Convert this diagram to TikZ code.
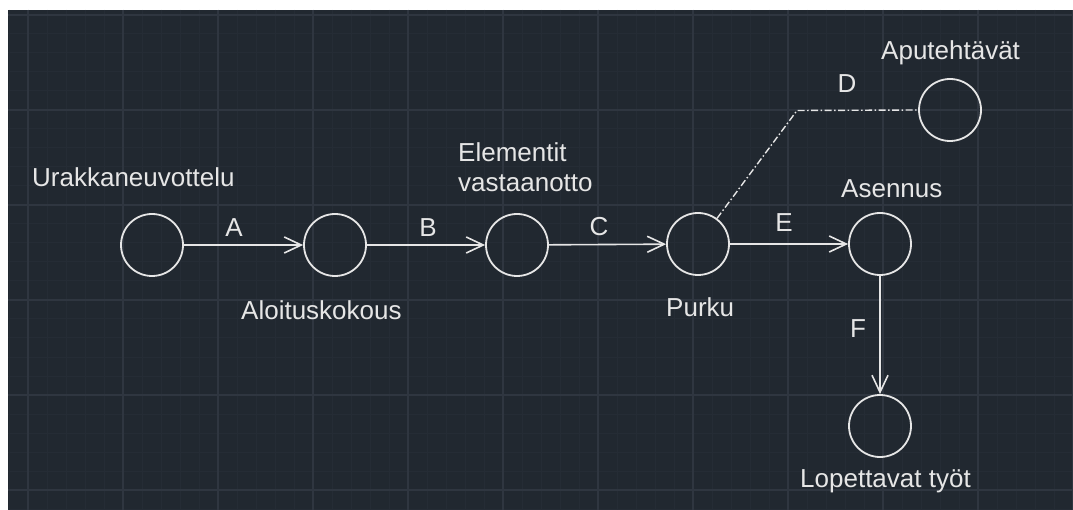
\documentclass[tikz,border=0pt]{standalone}
\usepackage{fontspec}
\setmainfont{Liberation Sans}
\usetikzlibrary{arrows.meta}
\definecolor{bg}{HTML}{212830}
\definecolor{minorgrid}{HTML}{252C35}
\definecolor{majorgrid}{HTML}{2F3640}
\definecolor{fg}{HTML}{E6E6E6}
\begin{document}
\begin{tikzpicture}[x=1pt,y=-1pt,
  ev/.style={circle, draw=fg, line width=1.8pt, minimum size=62pt, inner sep=0pt},
  txt/.style={text=fg, font=\fontsize{26}{30}\selectfont, inner sep=0pt, anchor=base west},
  elbl/.style={text=fg, font=\fontsize{26}{30}\selectfont, inner sep=0pt},
  arr/.style={draw=fg, line width=1.6pt, -{Straight Barb[length=17pt,width=16pt]}},
  dotline/.style={draw=fg, line width=1.4pt, dash pattern=on 7pt off 2.5pt on 1.5pt off 2.5pt}]
\useasboundingbox (0,0) rectangle (1073,510);
\fill[white] (0,0) rectangle (1073,510);
\fill[bg] (8,10) rectangle (1073,510);
\begin{scope}
  \clip (8,10) rectangle (1073,510);
  \foreach \x in {9,28,...,1073} \draw[minorgrid, line width=1pt] (\x,10) -- (\x,510);
  \foreach \y in {15,34,...,510} \draw[minorgrid, line width=1pt] (8,\y) -- (1073,\y);
  \foreach \x in {28,123,...,1073} \draw[majorgrid, line width=2pt] (\x,10) -- (\x,510);
  \foreach \y in {15,110,...,510} \draw[majorgrid, line width=2pt] (8,\y) -- (1073,\y);
\end{scope}

\node[ev] (n1) at (152,245) {};
\node[ev] (n2) at (335,245) {};
\node[ev] (n3) at (517,245) {};
\node[ev] (n4) at (698,244) {};
\node[ev] (n5) at (880,244) {};
\node[ev] (n6) at (950,110) {};
\node[ev] (n7) at (880,426) {};
\coordinate (bend) at (797,110.5);

\node[txt] (t1) at (32,187) {Urakkaneuvottelu};
\node[txt] (t2) at (241,320) {Aloituskokous};
\node[txt] (t3a) at (458,162) {Elementit};
\node[txt] (t3b) at (458,192) {vastaanotto};
\node[txt] (t4) at (666,317) {Purku};
\node[txt] (t5) at (841,198) {Asennus};
\node[txt] (t6) at (881,60) {Aputehtävät};
\node[txt] (t7) at (800,487) {Lopettavat työt};

\draw[arr] (n1) -- (n2);
\draw[arr] (n2) -- (n3);
\draw[arr] (n3) -- (n4);
\draw[arr] (n4) -- (n5);
\draw[arr] (n5) -- (n7);
\draw[dotline] (n4) -- (bend) -- (n6.west);

\node[elbl] (la) at (234,228) {A};
\node[elbl] (lb) at (428,228) {B};
\node[elbl] (lc) at (599,227) {C};
\node[elbl] (ld) at (847,84) {D};
\node[elbl] (le) at (784,223) {E};
\node[elbl] (lf) at (858,329) {F};
\end{tikzpicture}
\end{document}
